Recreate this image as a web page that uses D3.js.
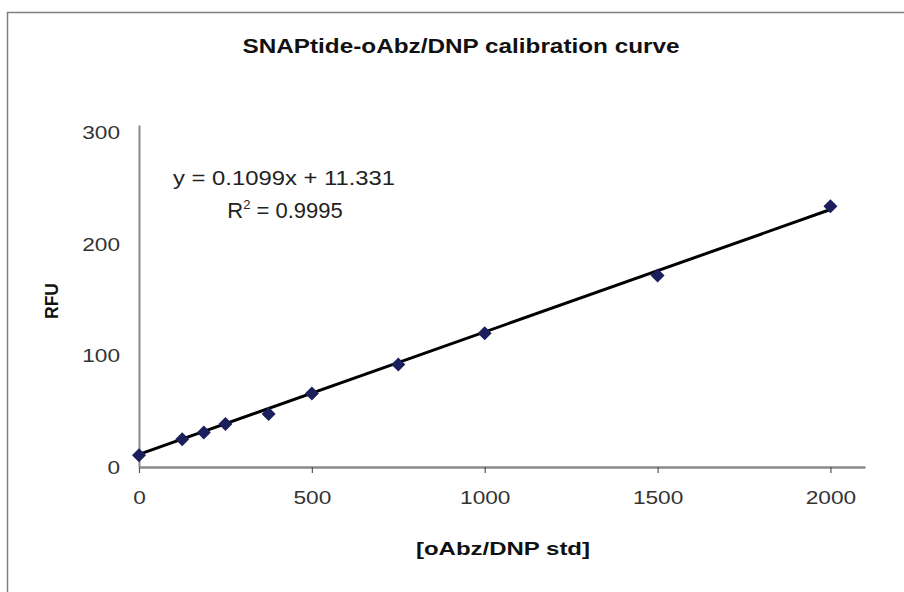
<!DOCTYPE html>
<html>
<head>
<meta charset="utf-8">
<script src="https://cdn.jsdelivr.net/npm/d3@7"></script>
<style>
  html, body { margin: 0; padding: 0; background: #fff; }
  svg { display: block; }
  text { font-family: "Liberation Sans", Arial, sans-serif; }
</style>
</head>
<body>
<svg id="chart" width="904" height="592"></svg>
<script>
// ---- data ----
const concentrations = [0, 125, 187.5, 250, 375, 500, 750, 1000, 1500, 2000];
const rfuValues      = [10.5, 25, 31, 38.5, 47.5, 66, 92, 120, 172, 234];
const xTicks = [0, 500, 1000, 1500, 2000];
const yTicks = [0, 100, 200, 300];
const fitSlope = 0.1099;
const fitIntercept = 11.331;
const fitRange = [0, 2000];
const titleText = "SNAPtide-oAbz/DNP calibration curve";
const xTitle = "[oAbz/DNP std]";
const yTitle = "RFU";
const eqText = "y = 0.1099x + 11.331";

const svg = d3.select("#chart");

// outer chart border (extends past right/bottom edges)
svg.append("rect")
  .attr("x", 7.5).attr("y", 12.5)
  .attr("width", 1000).attr("height", 1000)
  .attr("fill", "#fff").attr("stroke", "#7f7f7f").attr("stroke-width", 1.5);

const x = d3.scaleLinear().domain([0, 2100]).range([139, 865]);
const y = d3.scaleLinear().domain([0, 307]).range([467, 125]);

const fmt = d3.format("d");
const digitW = 12.6;

// title
svg.append("text")
  .attr("x", 461).attr("y", 53)
  .attr("text-anchor", "middle")
  .attr("font-size", 20).attr("font-weight", "bold").attr("fill", "#111")
  .attr("textLength", 437).attr("lengthAdjust", "spacingAndGlyphs")
  .text(titleText);

// x axis
const xAxis = svg.append("g")
  .attr("transform", `translate(0,${y(0)})`)
  .call(d3.axisBottom(x).tickValues(xTicks).tickFormat(fmt).tickSize(6).tickPadding(18).tickSizeOuter(0));
xAxis.select(".domain").attr("stroke", "#8a8a8a").attr("stroke-width", 2.5);
xAxis.selectAll(".tick line").attr("stroke", "#555").attr("stroke-width", 1.2);
xAxis.selectAll(".tick text")
  .attr("font-size", 19).attr("fill", "#333")
  .attr("font-family", "Liberation Sans, Arial, sans-serif")
  .attr("textLength", d => fmt(d).length * digitW)
  .attr("lengthAdjust", "spacingAndGlyphs");

// y axis
const yAxis = svg.append("g")
  .attr("transform", `translate(${x(0)},0)`)
  .call(d3.axisLeft(y).tickValues(yTicks).tickFormat(fmt).tickSize(0).tickPadding(19).tickSizeOuter(0));
yAxis.select(".domain").attr("stroke", "#8a8a8a").attr("stroke-width", 2);
yAxis.selectAll(".tick text")
  .attr("font-size", 19).attr("fill", "#333")
  .attr("font-family", "Liberation Sans, Arial, sans-serif")
  .attr("textLength", d => fmt(d).length * digitW)
  .attr("lengthAdjust", "spacingAndGlyphs");

// axis titles
svg.append("text")
  .attr("x", 503).attr("y", 555)
  .attr("text-anchor", "middle")
  .attr("font-size", 19).attr("font-weight", "bold").attr("fill", "#111")
  .attr("textLength", 174).attr("lengthAdjust", "spacingAndGlyphs")
  .text(xTitle);

svg.append("text")
  .attr("transform", "translate(58,301) rotate(-90)")
  .attr("text-anchor", "middle")
  .attr("font-size", 19).attr("font-weight", "bold").attr("fill", "#111")
  .attr("textLength", 36).attr("lengthAdjust", "spacingAndGlyphs")
  .text(yTitle);

// trendline
const fitPts = fitRange.map(v => [v, fitSlope * v + fitIntercept]);
svg.append("path")
  .datum(fitPts)
  .attr("fill", "none").attr("stroke", "#000").attr("stroke-width", 3)
  .attr("d", d3.line().x(d => x(d[0])).y(d => y(d[1])));

// markers (diamonds)
const pts = concentrations.map((c, i) => ({c, v: rfuValues[i]}));
svg.append("g").selectAll("path")
  .data(pts).join("path")
  .attr("transform", d => `translate(${x(d.c)},${y(d.v)})`)
  .attr("d", "M0,-7L7,0L0,7L-7,0Z")
  .attr("fill", "#1b1f5c");

// equation
svg.append("text")
  .attr("x", 284).attr("y", 185)
  .attr("text-anchor", "middle")
  .attr("font-size", 20).attr("fill", "#222")
  .attr("textLength", 222).attr("lengthAdjust", "spacingAndGlyphs")
  .text(eqText);

const r2 = svg.append("text")
  .attr("x", 285).attr("y", 218)
  .attr("text-anchor", "middle")
  .attr("font-size", 22).attr("fill", "#222");
r2.append("tspan").text("R");
r2.append("tspan").attr("font-size", 13).attr("dy", -9).text("2");
r2.append("tspan").attr("dy", 9).text(" = 0.9995");
</script>
</body>
</html>
